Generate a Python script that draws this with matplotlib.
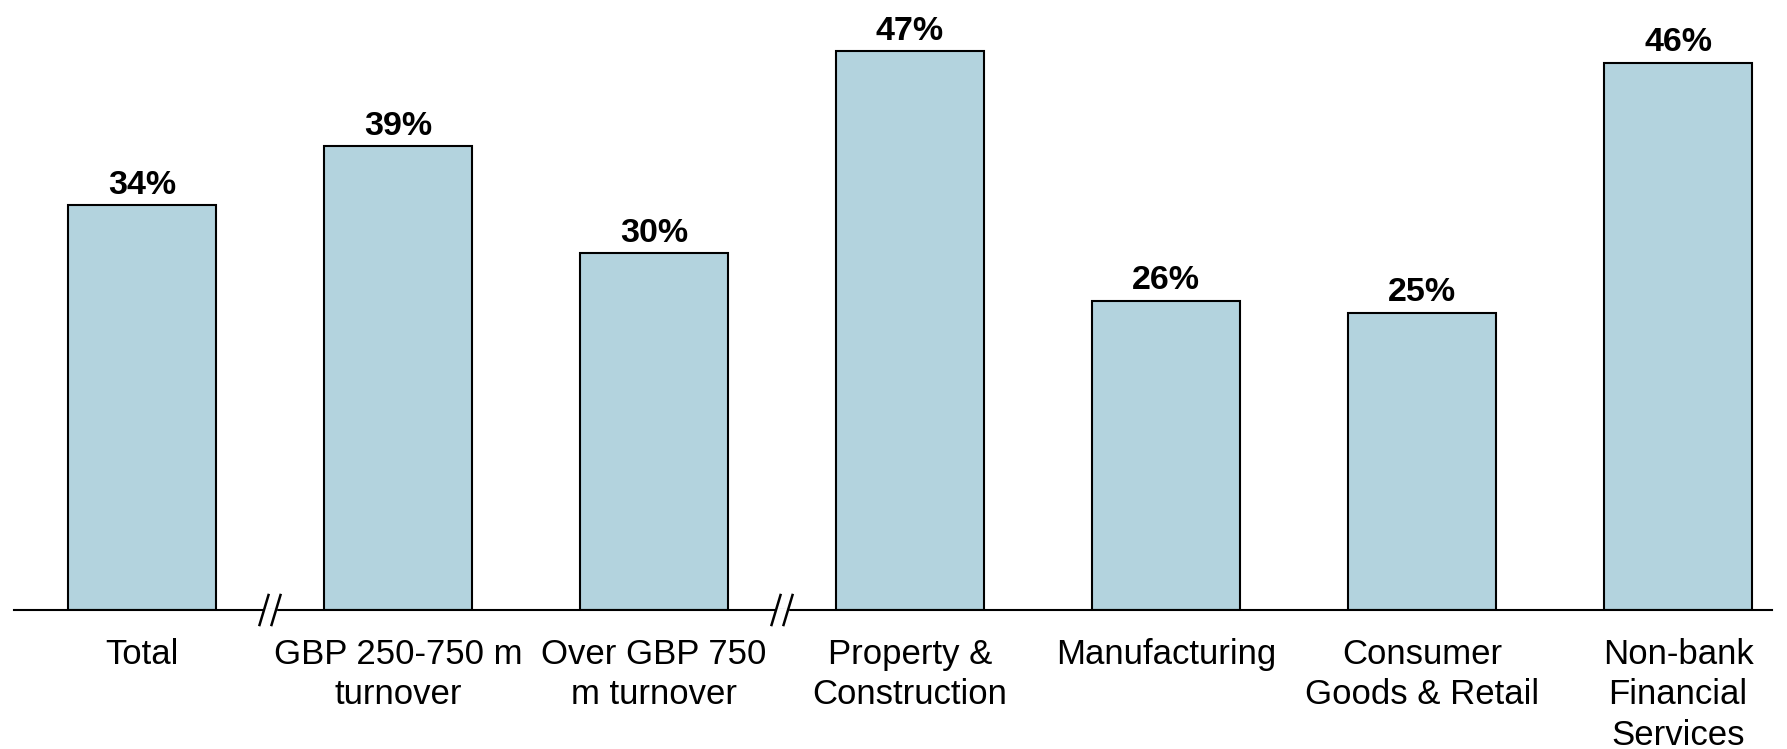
from matplotlib import pyplot as plt
import numpy as np

plt.rcParams['font.family'] = ['Liberation Sans', 'DejaVu Sans']

categories = ["Total", "GBP 250-750 m\nturnover", "Over GBP 750\nm turnover",
              "Property &\nConstruction", "Manufacturing", "Consumer\nGoods & Retail",
              "Non-bank\nFinancial\nServices"]
values = [34, 39, 30, 47, 26, 25, 46]
breaks_after = [0, 2]   # axis break marks sit after these bars

W, H = 1787, 749
fig = plt.figure(figsize=(W / 100, H / 100), dpi=100)
ax = fig.add_axes([14 / W, 139 / H, 1758 / W, 595 / H])

X = np.arange(len(values))
ax.bar(X, values, width=0.58, color="#b3d3de", edgecolor="black", linewidth=1.5, zorder=2)
for x, v in zip(X, values):
    ax.annotate("%d%%" % v, (x, v), xytext=(0, 3), textcoords="offset points",
                ha="center", va="bottom", fontsize=24.5, fontweight="bold")

ax.set_xlim(-0.5, 6.367)
ax.set_ylim(0, 50)
ax.set_xticks(X)
ax.set_xticklabels(categories, fontsize=25, linespacing=1.29)
ax.tick_params(axis="x", length=0, pad=20)
ax.set_yticks([])
for s in ["top", "left", "right"]:
    ax.spines[s].set_visible(False)
ax.spines["bottom"].set_linewidth(1.5)

# break marks "//" on the baseline
px = 1 / 256.0
py = 50 / 595.0
for b in breaks_after:
    xc = b + 0.5
    ax.fill_between([xc - 6 * px, xc + 6 * px], -1.2 * py, 1.2 * py, color="white",
                    clip_on=False, zorder=3)
    for off in (-6, 6):
        xm = xc + off * px
        ax.plot([xm - 4.5 * px, xm + 4.5 * px], [-15 * py, 15 * py], color="black",
                lw=1.8, clip_on=False, zorder=4)

fig.savefig("out.png", dpi=100)
